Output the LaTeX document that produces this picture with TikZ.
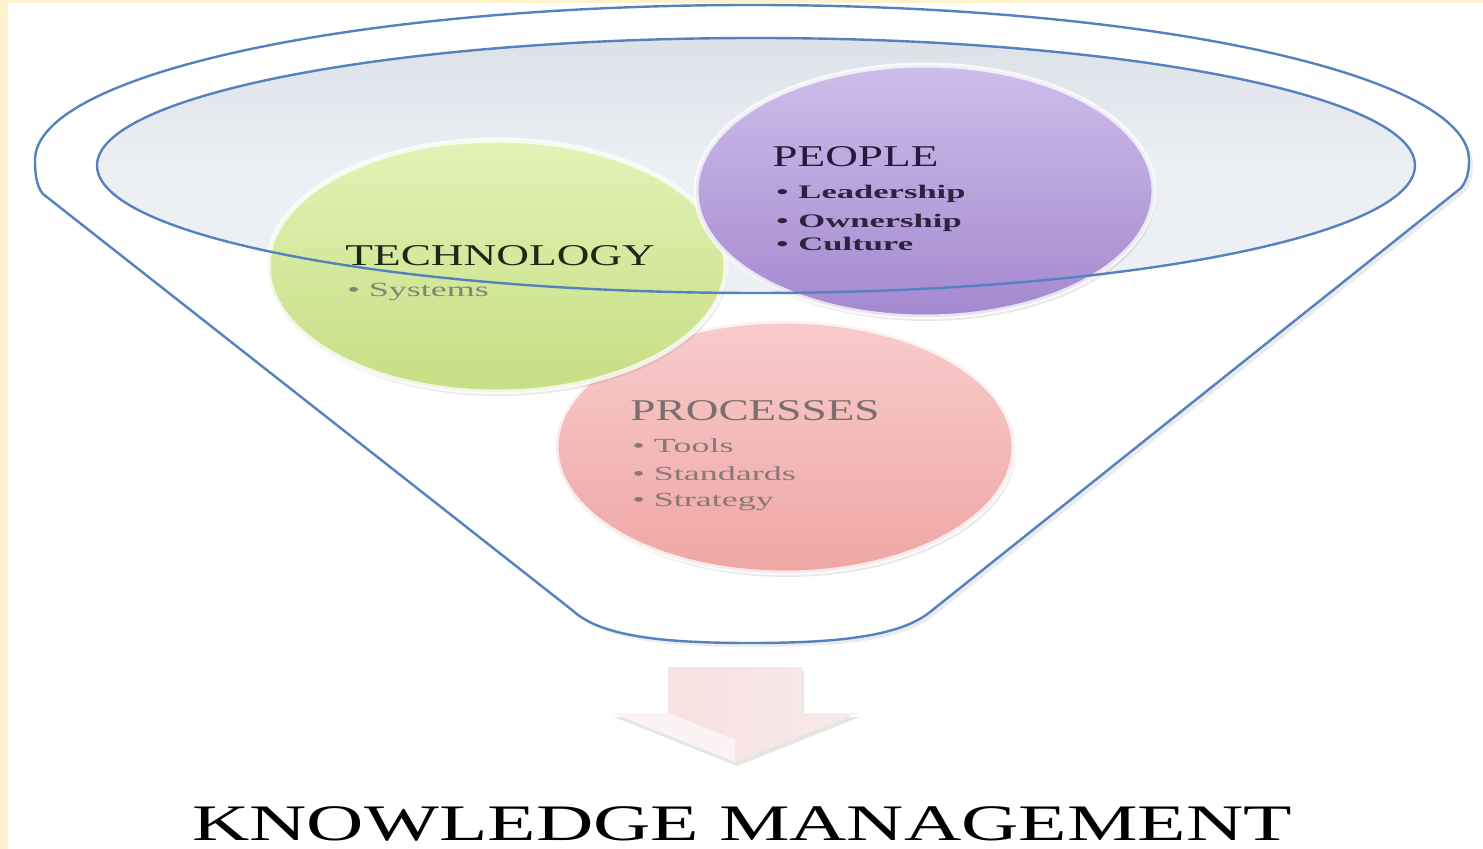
\documentclass[tikz,border=0pt]{standalone}
\usepackage{fontspec}
\setmainfont{Liberation Serif}
\newfontfamily\kmfont[FakeStretch=1.5]{Liberation Serif}
\newfontfamily\kmtitlefont[FakeStretch=1.55]{Liberation Serif}
\newfontfamily\kmlistfont[FakeStretch=1.8]{Liberation Serif}
\usetikzlibrary{shapes.geometric,shadows}

\definecolor{kmcream}{HTML}{FFF2CC}
\definecolor{rimblue}{HTML}{5482BE}
\definecolor{bowltop}{HTML}{DCE1E8}
\definecolor{bowlgray}{HTML}{ECEFF4}

\begin{document}
\begin{tikzpicture}[x=0.5pt, y=-0.5pt,
		ball_style/.style={ellipse, inner sep=0pt, minimum width=229pt, minimum height=126pt,
			draw=white, draw opacity=0.75, line width=2.5pt,
			drop shadow={opacity=0.18, shadow xshift=1pt, shadow yshift=-2pt}},
		head_style/.style={anchor=base west, inner sep=0pt, font=\kmfont\fontsize{15.1}{18}\selectfont},
		item_style/.style={anchor=base west, inner sep=0pt, font=\kmlistfont\fontsize{10}{12}\selectfont},
		bold_item_style/.style={anchor=base west, inner sep=0pt, font=\kmlistfont\bfseries\fontsize{9.6}{12}\selectfont},
		rim_style/.style={draw=rimblue, line width=1.2pt}]

		\useasboundingbox (0,0) rectangle (1483,849);
		\fill[kmcream] (0,0) rectangle (1483,849);
		\fill[white] (8,3) rectangle (1483,849);

		% funnel
		\path[rim_style, fill=white, drop shadow={opacity=0.15, shadow xshift=2pt, shadow yshift=-2pt}]
			(35,160) .. controls (35,74) and (356,5) .. (752,5)
			.. controls (1148,5) and (1469,74) .. (1469,160)
			.. controls (1469,172) and (1467,180) .. (1461,188)
			-- (930,612)
			.. controls (900,636) and (840,643) .. (750,643)
			.. controls (660,643) and (600,636) .. (572,610)
			-- (43,194)
			.. controls (36,186) and (35,172) .. cycle;
		\shade[top color=bowltop, bottom color=bowlgray, middle color=bowlgray]
			(756,165.5) ellipse [x radius=329.5pt, y radius=63.75pt];

		% the three balls
		\node[ball_style, top color={rgb,255:red,248;green,204;blue,203}, bottom color={rgb,255:red,238;green,166;blue,164}] (proc) at (785,447) {};
		\node[ball_style, top color={rgb,255:red,228;green,242;blue,182}, bottom color={rgb,255:red,198;green,222;blue,132}] (tech) at (497,266) {};
		\node[ball_style, top color={rgb,255:red,206;green,190;blue,234}, bottom color={rgb,255:red,164;green,136;blue,207}] (people) at (925,191) {};

		\draw[rim_style] (756,165.5) ellipse [x radius=329.5pt, y radius=63.75pt];

		% texts
		\node[head_style, text={rgb,255:red,30;green,40;blue,22}] (tech_head) at (345,266) {TECHNOLOGY};
		\node[item_style, text={rgb,255:red,128;green,132;blue,120}] (tech_i1) at (347,297) {\textbullet\ Systems};

		\node[head_style, text={rgb,255:red,38;green,26;blue,58}] (people_head) at (772,167) {PEOPLE};
		\node[bold_item_style, text={rgb,255:red,45;green,34;blue,64}] (people_i1) at (776,199) {\textbullet\hspace{5pt}Leadership};
		\node[bold_item_style, text={rgb,255:red,45;green,34;blue,64}] (people_i2) at (776,228) {\textbullet\hspace{5pt}Ownership};
		\node[bold_item_style, text={rgb,255:red,45;green,34;blue,64}] (people_i3) at (776,251) {\textbullet\hspace{5pt}Culture};

		\node[head_style, text={rgb,255:red,125;green,110;blue,110}] (proc_head) at (630,421) {PROCESSES};
		\node[item_style, text={rgb,255:red,138;green,120;blue,120}] (proc_i1) at (632,453) {\textbullet\ Tools};
		\node[item_style, text={rgb,255:red,138;green,120;blue,120}] (proc_i2) at (632,481) {\textbullet\ Standards};
		\node[item_style, text={rgb,255:red,138;green,120;blue,120}] (proc_i3) at (632,507) {\textbullet\ Strategy};

		% arrow out of the funnel
		\path[left color={rgb,255:red,246;green,222;blue,222}, middle color={rgb,255:red,236;green,190;blue,190},
			right color={rgb,255:red,249;green,234;blue,234},
			drop shadow={opacity=0.2, shadow xshift=1pt, shadow yshift=-2pt}]
			(668,667) -- (802,667) -- (802,713) -- (858,713) -- (735,762) -- (612,713) -- (668,713) -- cycle;
		\fill[white, opacity=0.6] (612,713) -- (668,713) -- (735,740) -- (735,762) -- cycle;

		\node[anchor=base west, inner sep=0pt, font=\kmtitlefont\fontsize{25.6}{30}\selectfont] (title) at (192,840) {KNOWLEDGE MANAGEMENT};
\end{tikzpicture}
\end{document}
